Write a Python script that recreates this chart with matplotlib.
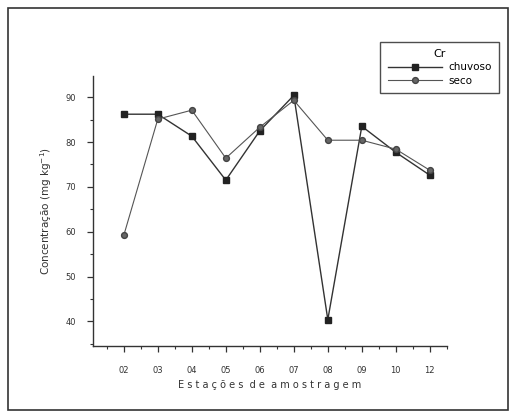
import matplotlib
matplotlib.use("Agg")
import matplotlib.pyplot as plt
from matplotlib.patches import Rectangle
from matplotlib.ticker import MultipleLocator

estacoes = ["02", "03", "04", "05", "06", "07", "08", "09", "10", "12"]
chuvoso = [86.2, 86.2, 81.3, 71.5, 82.5, 90.4, 40.4, 83.5, 77.7, 72.6]
seco = [59.2, 85.1, 87.1, 76.4, 83.3, 89.3, 80.4, 80.4, 78.4, 73.7]

x = list(range(1, len(estacoes) + 1))

fig = plt.figure(figsize=(5.13, 4.18), dpi=100)
# outer frame around the whole figure
fig.patches.append(Rectangle((8 / 513, 8 / 418), 500 / 513, 402 / 418,
                             transform=fig.transFigure, fill=False,
                             edgecolor="#333333", linewidth=1.2))

ax = fig.add_axes([0.181, 0.172, 0.69, 0.646])

ax.plot(x, chuvoso, color="#333333", linewidth=1.0, marker="s",
        markersize=4.2, markerfacecolor="#222222", markeredgecolor="#222222",
        label="chuvoso")
ax.plot(x, seco, color="#555555", linewidth=0.8, marker="o",
        markersize=4.2, markerfacecolor="#666666", markeredgecolor="#444444",
        label="seco")

ax.set_xlim(0.09, 10.5)
ax.set_ylim(34.5, 94.7)
ax.set_xticks(x)
ax.set_xticklabels(estacoes)
ax.xaxis.set_minor_locator(MultipleLocator(0.5))
ax.yaxis.set_minor_locator(MultipleLocator(5))
ax.set_yticks([40, 50, 60, 70, 80, 90])

for side in ["top", "right"]:
    ax.spines[side].set_visible(False)
for side in ["left", "bottom"]:
    ax.spines[side].set_color("#333333")
    ax.spines[side].set_linewidth(1.0)

ax.tick_params(which="major", direction="out", length=4, width=0.9,
               colors="#333333", labelsize=6, pad=10)
ax.tick_params(which="minor", direction="out", length=2.5, width=0.8,
               colors="#333333")
ax.tick_params(axis="y", which="major", pad=8)

ax.set_xlabel("E s t a ç õ e s  d e  a m o s t r a g e m", fontsize=7,
              color="#333333", labelpad=4)
ax.set_ylabel("Concentração (mg kg$^{-1}$)", fontsize=7.5,
              color="#333333", labelpad=8)

leg = ax.legend(title="Cr", loc="upper right", bbox_to_anchor=(1.147, 1.126),
                fontsize=7.5, title_fontsize=8, frameon=True, fancybox=False,
                handlelength=5.2, handletextpad=0.6, borderpad=0.7,
                labelspacing=0.3, borderaxespad=0)
leg.get_frame().set_edgecolor("#222222")
leg.get_frame().set_linewidth(1.0)

fig.savefig("out.png", dpi=100)
